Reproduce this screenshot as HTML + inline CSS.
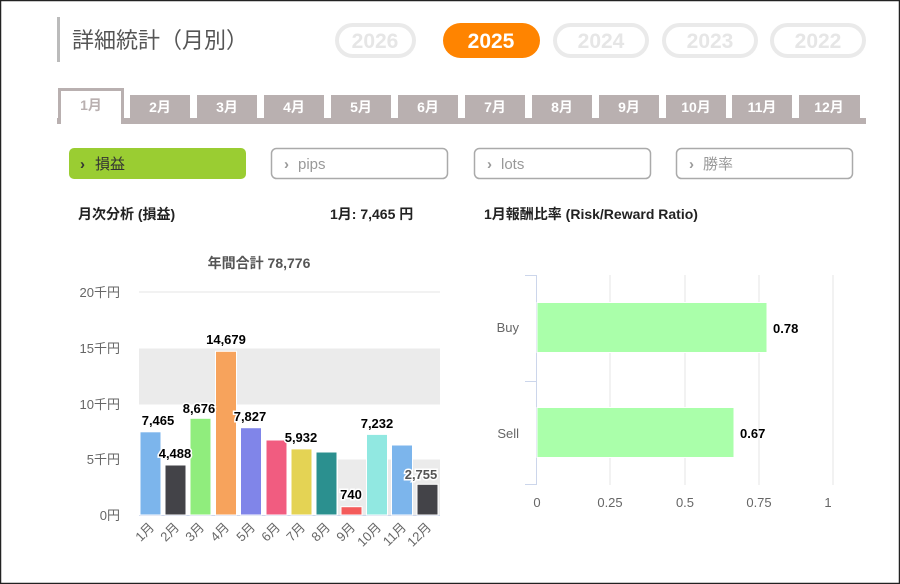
<!DOCTYPE html>
<html><head><meta charset="utf-8"><style>
body{margin:0;background:#fff}
svg{display:block;font-family:"Liberation Sans","Noto Sans CJK JP",sans-serif}
</style></head><body>
<svg width="900" height="584" viewBox="0 0 900 584" xmlns="http://www.w3.org/2000/svg">
<rect x="0.5" y="0.5" width="899" height="583" fill="#fff" stroke="#222" stroke-width="1.5"/>
<!-- title -->
<rect x="57" y="17" width="3" height="45" fill="#bbb"/>
<text x="72" y="48" font-size="22" fill="#555">詳細統計（月別）</text>
<!-- year pills -->
<g font-size="21" font-weight="bold" text-anchor="middle">
<rect x="337" y="25" width="77" height="31" rx="15.5" fill="#fff" stroke="#eaeaea" stroke-width="4"/><text x="375" y="48" fill="#e6e6e6">2026</text>
<rect x="443" y="23" width="97" height="35" rx="17.5" fill="#ff8400"/><text x="491" y="48" fill="#fff">2025</text>
<rect x="555" y="25" width="92" height="31" rx="15.5" fill="#fff" stroke="#eaeaea" stroke-width="4"/><text x="601" y="48" fill="#e6e6e6">2024</text>
<rect x="664" y="25" width="92" height="31" rx="15.5" fill="#fff" stroke="#eaeaea" stroke-width="4"/><text x="710" y="48" fill="#e6e6e6">2023</text>
<rect x="772" y="25" width="92" height="31" rx="15.5" fill="#fff" stroke="#eaeaea" stroke-width="4"/><text x="818" y="48" fill="#e6e6e6">2022</text>
</g>
<!-- tabs -->
<rect x="57" y="118" width="809" height="6" fill="#b9b0b0"/>
<rect x="58" y="88" width="66" height="36" fill="#b9b0b0"/>
<rect x="61" y="91" width="60" height="33" fill="#fff"/>
<g font-size="14" font-weight="bold" fill="#fff" text-anchor="middle">
<text x="91" y="110" fill="#b9b0b0">1月</text>
<rect x="130" y="95" width="60" height="24" fill="#b9b0b0"/><text x="160" y="112">2月</text>
<rect x="197" y="95" width="60" height="24" fill="#b9b0b0"/><text x="227" y="112">3月</text>
<rect x="264" y="95" width="60" height="24" fill="#b9b0b0"/><text x="294" y="112">4月</text>
<rect x="331" y="95" width="60" height="24" fill="#b9b0b0"/><text x="361" y="112">5月</text>
<rect x="398" y="95" width="60" height="24" fill="#b9b0b0"/><text x="428" y="112">6月</text>
<rect x="465" y="95" width="60" height="24" fill="#b9b0b0"/><text x="495" y="112">7月</text>
<rect x="532" y="95" width="60" height="24" fill="#b9b0b0"/><text x="562" y="112">8月</text>
<rect x="599" y="95" width="60" height="24" fill="#b9b0b0"/><text x="629" y="112">9月</text>
<rect x="666" y="95" width="60" height="24" fill="#b9b0b0"/><text x="696" y="112">10月</text>
<rect x="732" y="95" width="60" height="24" fill="#b9b0b0"/><text x="762" y="112">11月</text>
<rect x="799" y="95" width="61" height="24" fill="#b9b0b0"/><text x="829" y="112">12月</text>
</g>
<!-- buttons -->
<rect x="69" y="148" width="177" height="31" rx="5" fill="#9acd32"/>
<text x="80" y="169" font-size="15" fill="#333" font-weight="bold">›</text><text x="95" y="169" font-size="15" fill="#333">損益</text>
<g fill="#fff" stroke="#aaa" stroke-width="1.5">
<rect x="271.5" y="148.5" width="176" height="30" rx="5"/>
<rect x="474.5" y="148.5" width="176" height="30" rx="5"/>
<rect x="676.5" y="148.5" width="176" height="30" rx="5"/>
</g>
<g font-size="15" fill="#999">
<text x="284" y="169" font-weight="bold">›</text><text x="298" y="169">pips</text>
<text x="487" y="169" font-weight="bold">›</text><text x="501" y="169">lots</text>
<text x="689" y="169" font-weight="bold">›</text><text x="703" y="169">勝率</text>
</g>
<!-- headers -->
<g font-size="14" font-weight="bold" fill="#222">
<text x="78" y="219">月次分析 (損益)</text>
<text x="330" y="219">1月:  7,465 円</text>
<text x="484" y="219">1月報酬比率 (Risk/Reward Ratio)</text>
</g>
<text x="259" y="268" font-size="14" font-weight="bold" fill="#555" text-anchor="middle">年間合計 78,776</text>
<!-- left chart -->
<rect x="139" y="348.5" width="301" height="56" fill="#ebebeb"/>
<rect x="338" y="459.5" width="102" height="55.5" fill="#ebebeb"/>
<line x1="139" y1="292" x2="440" y2="292" stroke="#e6e6e6"/>
<line x1="139" y1="515.5" x2="440" y2="515.5" stroke="#ccd6eb"/>
<g font-size="13" fill="#666" text-anchor="end">
<text x="120" y="297">20千円</text><text x="120" y="353">15千円</text><text x="120" y="409">10千円</text><text x="120" y="464">5千円</text><text x="120" y="520">0円</text>
</g>
<g stroke="#fff" stroke-width="1">
<rect x="140" y="431.8" width="21" height="83.2" fill="#7cb5ec"/>
<rect x="165" y="465" width="21" height="50" fill="#434348"/>
<rect x="190" y="418.3" width="21" height="96.7" fill="#90ed7d"/>
<rect x="215.5" y="351.3" width="21" height="163.7" fill="#f7a35c"/>
<rect x="240.5" y="427.7" width="21" height="87.3" fill="#8085e9"/>
<rect x="266" y="440" width="21" height="75" fill="#f15c80"/>
<rect x="291" y="448.9" width="21" height="66.1" fill="#e4d354"/>
<rect x="316" y="452" width="21" height="63" fill="#2b908f"/>
<rect x="341" y="506.7" width="21" height="8.3" fill="#f45b5b"/>
<rect x="366.5" y="434.4" width="21" height="80.6" fill="#91e8e1"/>
<rect x="391.5" y="445" width="21" height="70" fill="#7cb5ec"/>
<rect x="417" y="484.3" width="21" height="30.7" fill="#434348"/>
</g>
<g font-size="13" font-weight="bold" fill="#000" text-anchor="middle" stroke="#fff" stroke-width="3" paint-order="stroke">
<text x="158" y="425">7,465</text>
<text x="175" y="458">4,488</text>
<text x="199" y="413">8,676</text>
<text x="226" y="344">14,679</text>
<text x="250" y="421">7,827</text>
<text x="301" y="442">5,932</text>
<text x="351" y="499">740</text>
<text x="377" y="428">7,232</text>
<text x="421" y="479" fill="#555">2,755</text>
</g>
<g font-size="13" fill="#666" text-anchor="end">
<text transform="translate(155,528) rotate(-45)">1月</text>
<text transform="translate(180,528) rotate(-45)">2月</text>
<text transform="translate(205,528) rotate(-45)">3月</text>
<text transform="translate(230,528) rotate(-45)">4月</text>
<text transform="translate(256,528) rotate(-45)">5月</text>
<text transform="translate(281,528) rotate(-45)">6月</text>
<text transform="translate(306,528) rotate(-45)">7月</text>
<text transform="translate(331,528) rotate(-45)">8月</text>
<text transform="translate(356,528) rotate(-45)">9月</text>
<text transform="translate(382,528) rotate(-45)">10月</text>
<text transform="translate(407,528) rotate(-45)">11月</text>
<text transform="translate(432,528) rotate(-45)">12月</text>
</g>
<!-- right chart -->
<g stroke="#e6e6e6">
<line x1="610" y1="275" x2="610" y2="485"/><line x1="685" y1="275" x2="685" y2="485"/>
<line x1="759" y1="275" x2="759" y2="485"/><line x1="833" y1="275" x2="833" y2="485"/>
</g>
<g stroke="#ccd6eb">
<line x1="536.5" y1="275" x2="536.5" y2="485"/>
<line x1="525" y1="275.5" x2="536" y2="275.5"/><line x1="525" y1="381.5" x2="536" y2="381.5"/><line x1="525" y1="484.5" x2="536" y2="484.5"/>
</g>
<rect x="537" y="302.5" width="230" height="50" fill="#aaffaa" stroke="#fff"/>
<rect x="537" y="407.5" width="197" height="50" fill="#aaffaa" stroke="#fff"/>
<g font-size="13" font-weight="bold" fill="#000">
<text x="773" y="333">0.78</text><text x="740" y="438">0.67</text>
</g>
<g font-size="13" fill="#666">
<text x="519" y="332" text-anchor="end">Buy</text><text x="519" y="438" text-anchor="end">Sell</text>
</g>
<g font-size="13" fill="#666" text-anchor="middle">
<text x="537" y="507">0</text><text x="610" y="507">0.25</text><text x="685" y="507">0.5</text><text x="759" y="507">0.75</text><text x="828" y="507">1</text>
</g>
</svg>
</body></html>
